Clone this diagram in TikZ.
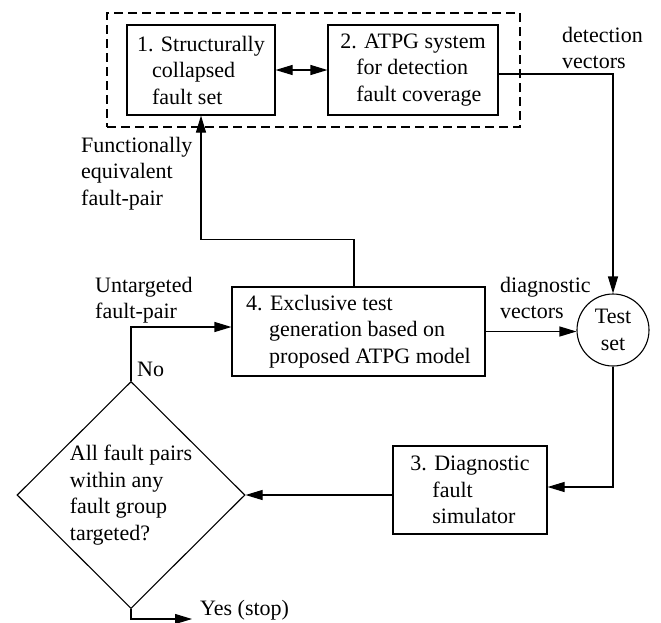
\documentclass[tikz,border=0pt]{standalone}
\usepackage{fontspec}
\setmainfont{Liberation Serif}
\usetikzlibrary{shapes.geometric,arrows.meta}
\begin{document}
\begin{tikzpicture}[x=1pt,y=-1pt,
  every node/.style={font=\fontsize{22}{26.5}\selectfont},
  box/.style={draw, line width=1.1pt, align=left, inner sep=0pt},
  lbl/.style={align=left, inner sep=0pt, anchor=north west},
  conn/.style={line width=1.1pt},
  tip/.tip={Triangle[length=17pt,width=10pt]},
  arr/.style={conn, -tip},
  ]
\useasboundingbox (0,0) rectangle (661,622);
% group
\node[draw, line width=1.1pt, dash pattern=on 9pt off 5pt, minimum width=413pt, minimum height=114pt, inner sep=0pt] (grp) at (313.5,70) {};
% boxes
\node[box, minimum width=148pt, minimum height=90pt] (b1) at (201,70)
  {1. Structurally\\\hspace*{15pt}collapsed\\\hspace*{15pt}fault set};
\node[box, minimum width=170pt, minimum height=90pt] (b2) at (413,70)
  {2. ATPG system\\\hspace*{16pt}for detection\\\hspace*{16pt}fault coverage};
\node[box, minimum width=253pt, minimum height=89pt] (b4) at (358.5,331.5)
  {4. Exclusive test\\\hspace*{23pt}generation based on\\\hspace*{23pt}proposed ATPG model};
\node[box, minimum width=154pt, minimum height=88pt] (b3) at (470,490)
  {3. Diagnostic\\\hspace*{22pt}fault\\\hspace*{22pt}simulator};
\node[draw, circle, line width=1.1pt, minimum size=72pt, inner sep=0pt, align=center] (ts) at (613,330) {Test\\set};
\node[draw, diamond, line width=1.1pt, minimum width=228pt, minimum height=227pt, inner sep=0pt, align=left] (dm) at (131,495)
  {All fault pairs\\within any\\fault group\\targeted?};
% labels
\node[lbl] (ldet) at (562,27) {detection\\vectors};
\node[lbl] (ldiag) at (500,277) {diagnostic\\vectors};
\node[lbl] (lfun) at (81,137) {Functionally\\equivalent\\fault-pair};
\node[lbl] (lunt) at (95,277) {Untargeted\\fault-pair};
\node[lbl] (lno) at (137,362) {No};
\node[lbl] (lyes) at (200,600) {Yes (stop)};
\coordinate (yes) at (192,619);
% connectors
\draw[conn, tip-tip] (b1) -- (b2);
\draw[arr] ([yshift=-4pt]b2.east) -| (ts.north);
\draw[arr] (b4.east) -- (b4.east -| ts.west);
\draw[arr] ([xshift=-4.5pt]b4.north) -- ++(0,-47) -| (b1.south);
\draw[arr] (dm.north) |- ([yshift=4.5pt]b4.west);
\draw[arr] (ts.south) |- ([yshift=3pt]b3.east);
\draw[arr] (b3.west |- dm.east) -- (dm.east);
\draw[arr] (dm.south) |- (yes);
\end{tikzpicture}
\end{document}
